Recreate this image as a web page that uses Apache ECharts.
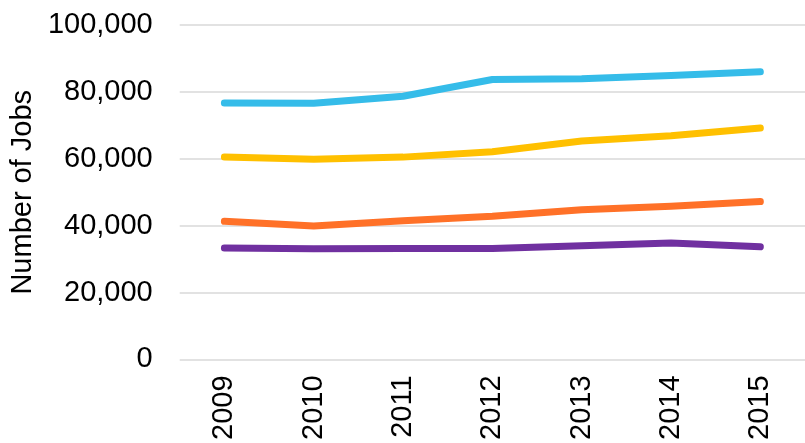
<!DOCTYPE html>
<html>
<head>
<meta charset="utf-8">
<script src="https://cdn.jsdelivr.net/npm/echarts@6/dist/echarts.min.js"></script>
<style>
  html, body { margin: 0; padding: 0; background: #fff; }
  #chart { width: 805px; height: 443px; }
</style>
</head>
<body>
<div id="chart"></div>
<script>
// years on the x axis
var years = ['2009', '2010', '2011', '2012', '2013', '2014', '2015'];
// jobs per series
var blueJobs   = [76700, 76600, 78700, 83700, 83900, 84900, 86000];
var yellowJobs = [60500, 59900, 60500, 62100, 65300, 66900, 69200];
var orangeJobs = [41300, 39900, 41500, 42800, 44800, 45800, 47200];
var purpleJobs = [33300, 33100, 33200, 33200, 34000, 34800, 33700];
var yTicks = [0, 20000, 40000, 60000, 80000, 100000];

var font = 'Liberation Sans, Arial, sans-serif';

function lineSeries(data, color){
	return {
		type: 'line',
		data: data,
		symbol: 'none',
		lineStyle: { color: color, width: 7, cap: 'round', join: 'round' },
		itemStyle: { color: color }
	};
}

var myChart = echarts.init(document.getElementById('chart'));
myChart.setOption({
	animation: false,
	grid: { left: 173, right: 0, top: 25, bottom: 82, containLabel: false },
	xAxis: {
		type: 'category',
		data: years,
		boundaryGap: true,
		axisLine: { show: false },
		axisTick: { show: false },
		axisLabel: {
			rotate: 90, margin: 16,
			color: '#000', fontFamily: font, fontSize: 29
		}
	},
	yAxis: {
		type: 'value',
		min: yTicks[0],
		max: yTicks[yTicks.length - 1],
		interval: 20000,
		name: 'Number of Jobs',
		nameLocation: 'middle',
		nameGap: 137,
		nameTextStyle: { color: '#000', fontFamily: font, fontSize: 29 },
		axisLine: { show: false },
		axisTick: { show: false },
		splitLine: { lineStyle: { color: '#d9d9d9', width: 1.5 } },
		axisLabel: {
			margin: 27,
			color: '#000', fontFamily: font, fontSize: 29,
			formatter: function(v){ return v.toLocaleString('en-US'); }
		}
	},
	series: [
		lineSeries(blueJobs, '#35BCE9'),
		lineSeries(yellowJobs, '#FFC000'),
		lineSeries(orangeJobs, '#FF7128'),
		lineSeries(purpleJobs, '#7030A0')
	]
});
window.onresize = myChart.resize;
</script>
</body>
</html>
